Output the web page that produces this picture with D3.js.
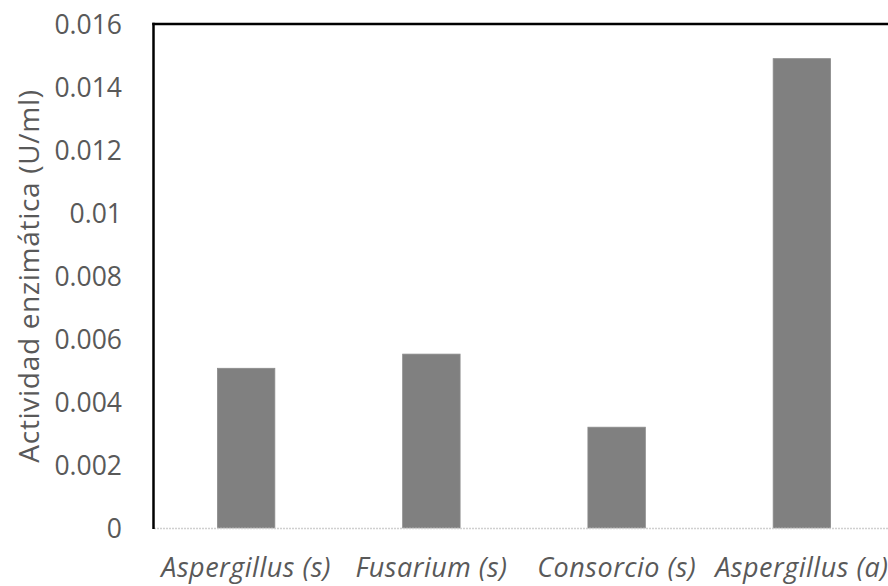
<!DOCTYPE html>
<html>
<head>
<meta charset="utf-8">
<script src="https://cdn.jsdelivr.net/npm/d3@7"></script>
<style>
  html, body { margin: 0; padding: 0; background: #fff; overflow: hidden; }
  svg { display: block; }
</style>
</head>
<body>
<svg id="chart" width="888" height="586"></svg>
<script>
const categories = ["Aspergillus (s)", "Fusarium (s)", "Consorcio (s)", "Aspergillus (a)"];
const values = [0.00507, 0.00552, 0.0032, 0.0149];
const yTicks = [0, 0.002, 0.004, 0.006, 0.008, 0.01, 0.012, 0.014, 0.016];
const yTickLabels = ["0", "0.002", "0.004", "0.006", "0.008", "0.01", "0.012", "0.014", "0.016"];
const yTitle = "Actividad enzimática (U/ml)";

const svg = d3.select("#chart");
const plotLeft = 153.5, plotRight = 894.5, plotTop = 24, plotBottom = 528;
const font = "'Open Sans', 'Noto Sans', sans-serif";
const textColor = "#595959";

const x = d3.scaleBand().domain(categories).range([plotLeft, plotRight])
  .paddingInner(0.69).paddingOuter(0.345);
const y = d3.scaleLinear().domain([0, 0.016]).range([plotBottom, plotTop]);

// bars
svg.append("g").selectAll("rect").data(values).join("rect")
  .attr("x", (d, i) => x(categories[i]))
  .attr("y", d => y(d))
  .attr("width", x.bandwidth())
  .attr("height", d => y(0) - y(d))
  .attr("fill", "#808080")
  .attr("stroke", "#8c8c8c")
  .attr("stroke-width", 0.8);

// bottom axis (light gray)
const xAxis = d3.axisBottom(x).tickSize(0).tickPadding(0);
const gx = svg.append("g").attr("transform", `translate(0,${plotBottom})`).call(xAxis);
gx.select(".domain").attr("stroke", "#d0d0d0").attr("stroke-width", 1.5)
  .attr("stroke-dasharray", "2,1");
gx.selectAll("text")
  .attr("y", 49)
  .attr("dy", 0)
  .attr("font-family", font)
  .attr("font-size", 27)
  .attr("letter-spacing", 0.5)
  .attr("font-style", "italic")
  .attr("fill", textColor);

// left axis labels
const yAxis = d3.axisLeft(y).tickValues(yTicks).tickSize(0).tickPadding(0)
  .tickFormat((d, i) => yTickLabels[i]);
const gy = svg.append("g").attr("transform", `translate(122,0)`).call(yAxis);
gy.select(".domain").remove();
gy.selectAll("text")
  .attr("x", 0)
  .attr("dy", "0.35em")
  .attr("font-family", font)
  .attr("font-size", 26.5)
  .attr("fill", textColor);

// frame lines (left & top black)
svg.append("line").attr("x1", plotLeft).attr("x2", plotLeft).attr("y1", plotTop - 1.2).attr("y2", plotBottom + 1)
  .attr("stroke", "#000").attr("stroke-width", 2.5);
svg.append("line").attr("x1", plotLeft - 1.2).attr("x2", 888).attr("y1", plotTop).attr("y2", plotTop)
  .attr("stroke", "#000").attr("stroke-width", 2.5);

// y title
svg.append("text")
  .attr("transform", `translate(39,${(plotTop + plotBottom) / 2}) rotate(-90)`)
  .attr("text-anchor", "middle")
  .attr("font-family", font)
  .attr("font-size", 28)
  .attr("letter-spacing", 0.7)
  .attr("fill", textColor)
  .text(yTitle);
</script>
</body>
</html>
